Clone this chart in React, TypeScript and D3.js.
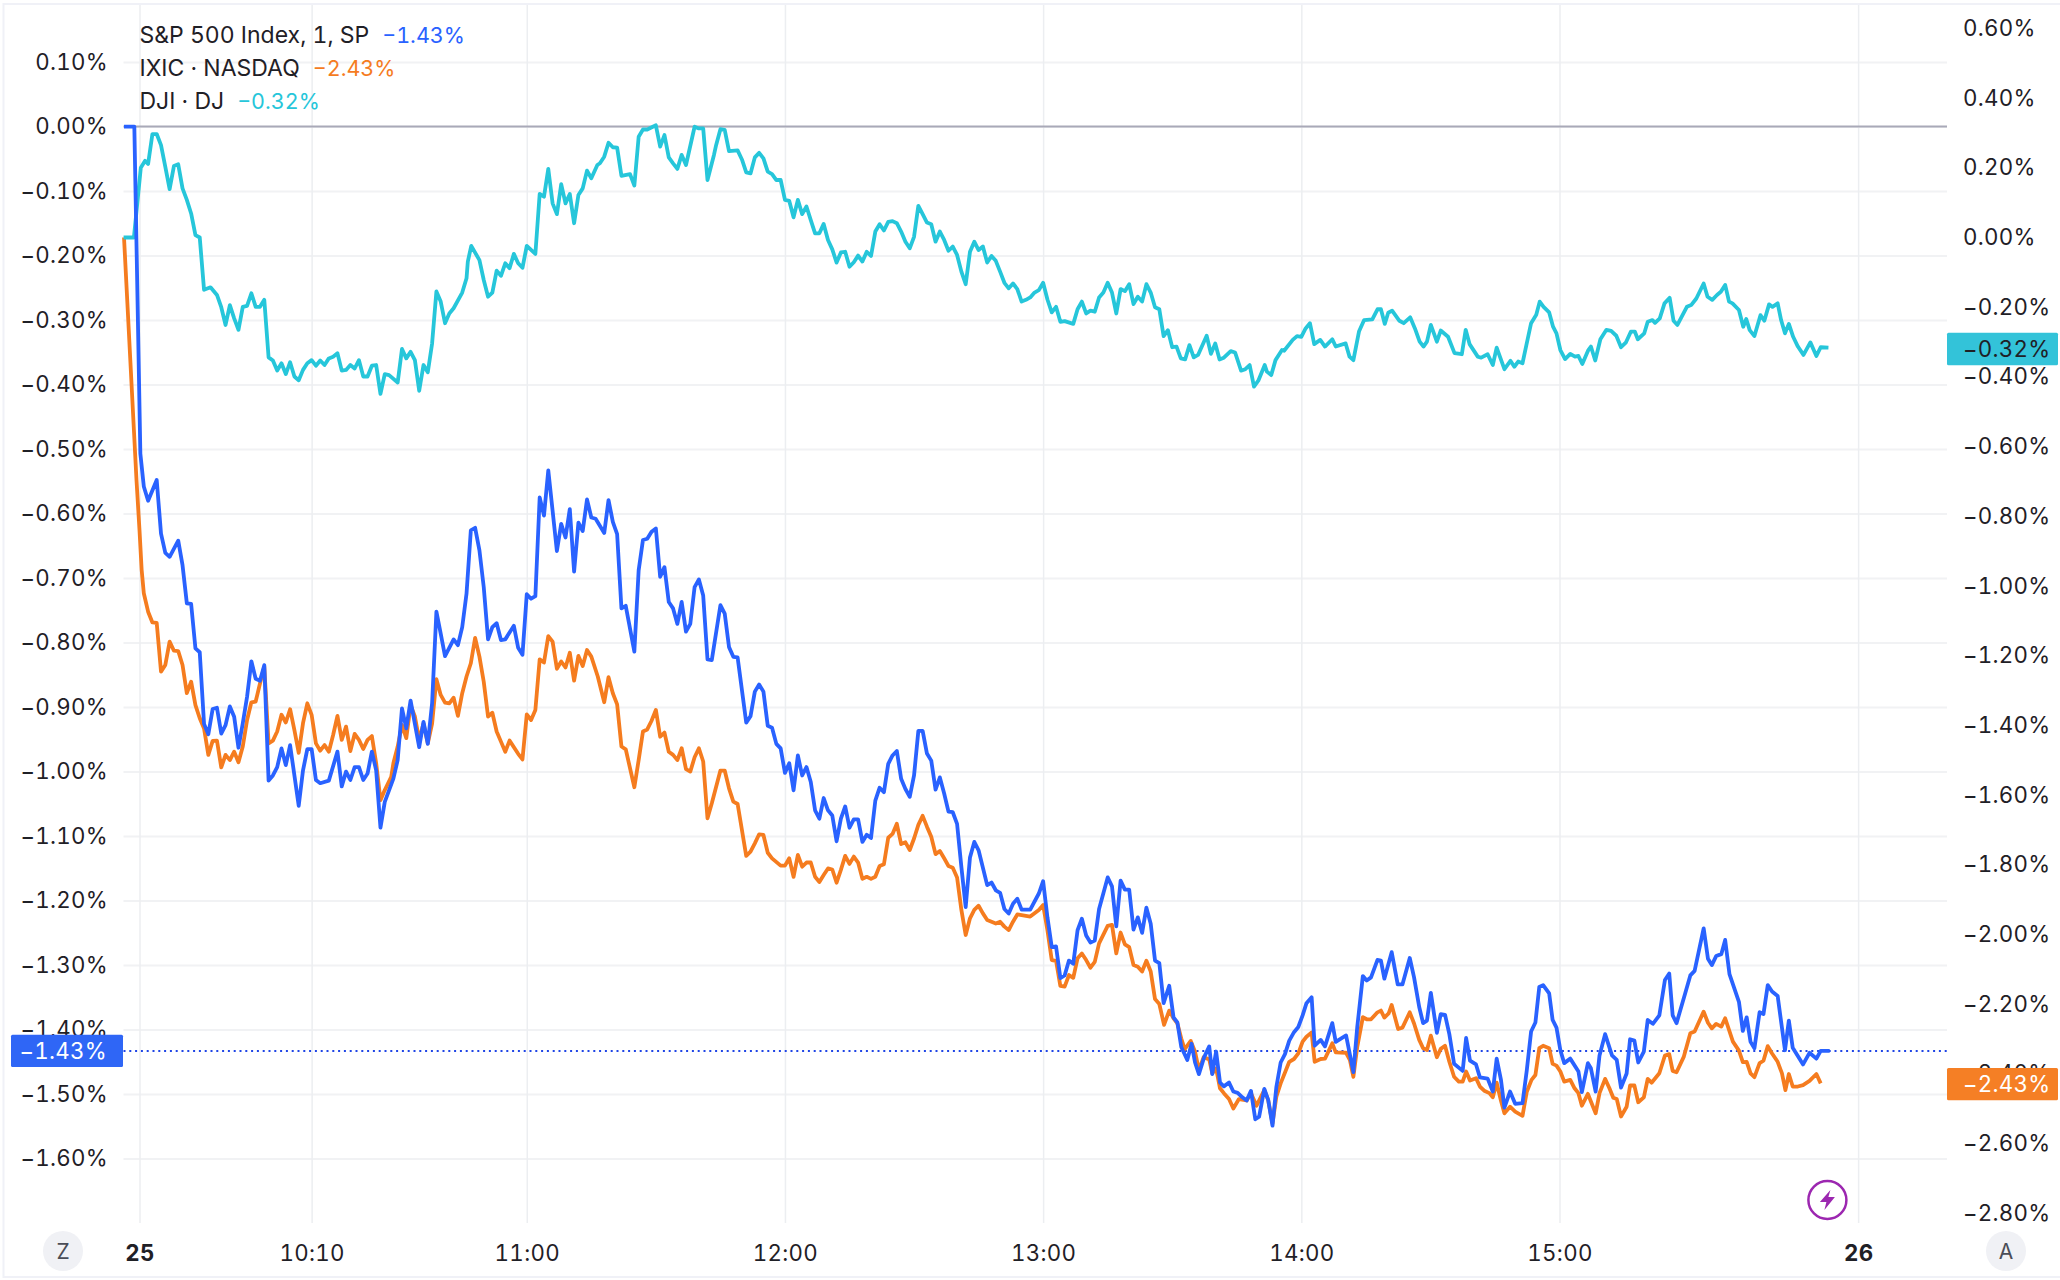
import React, { useRef, useEffect } from 'react';
import * as d3 from 'd3';

// every point is [minutes after 9:30, percent change]
const spPoints: [number, number][] = [
  [-3.6,0],[-1.2,0],[0.2,-0.507],[1,-0.558],[2,-0.58],[4,-0.548],[5,-0.631],[6,-0.661],[7,-0.667],[9,-0.642],[10,-0.68],[11,-0.739],[12,-0.74],[13,-0.809],[14,-0.815],[15,-0.926],[16,-0.942],[17,-0.903],[18,-0.901],[19,-0.941],[20,-0.928],[21,-0.899],[22,-0.915],[23,-0.963],[24,-0.925],[25,-0.884],[26,-0.829],[27,-0.856],[28,-0.859],[29,-0.835],[30,-1.014],[31,-1.006],[32,-0.993],[33,-0.964],[34,-0.99],[35,-0.959],[37,-1.053],[38,-0.998],[39,-0.965],[40,-0.965],[41,-1.013],[42,-1.018],[44,-1.014],[46,-0.969],[47,-1.023],[48,-1],[49,-1.013],[50,-0.993],[51,-0.993],[52,-1.013],[53,-1.003],[54,-0.969],[55,-0.998],[56,-1.087],[57,-1.047],[59,-1.011],[60,-0.982],[61,-0.902],[62,-0.933],[63,-0.89],[65,-0.962],[66,-0.923],[67,-0.957],[68,-0.894],[69,-0.752],[70,-0.786],[71,-0.821],[73,-0.795],[74,-0.804],[75,-0.776],[76,-0.724],
  [77,-0.626],[78,-0.622],[79,-0.657],[80,-0.714],[81,-0.795],[82,-0.776],[83,-0.77],[84,-0.796],[85,-0.795],[87,-0.774],[88,-0.808],[89,-0.819],[90,-0.725],[91,-0.732],[92,-0.728],[93,-0.575],[94,-0.603],[95,-0.533],[97,-0.658],[98,-0.616],[99,-0.637],[100,-0.593],[101,-0.69],[102,-0.614],[103,-0.627],[104,-0.578],[105,-0.606],[106,-0.608],[108,-0.63],[109,-0.579],[110,-0.613],[111,-0.632],[112,-0.747],[113,-0.743],[115,-0.814],[116,-0.688],[117,-0.641],[118,-0.639],[119,-0.628],[120,-0.623],[121,-0.698],[122,-0.683],[123,-0.737],[124,-0.747],[125,-0.771],[126,-0.737],[127,-0.783],[128,-0.771],[129,-0.714],[130,-0.702],[131,-0.727],[132,-0.826],[133,-0.827],[135,-0.742],[136,-0.755],[137,-0.807],[138,-0.822],[139,-0.823],[141,-0.924],[142,-0.914],[143,-0.876],[144,-0.865],[145,-0.876],[146,-0.929],[147,-0.932],[148,-0.957],[149,-0.964],[150,-1.002],[151,-0.987],[152,-1.029],[153,-0.975],[154,-1.006],[155,-0.993],[156,-1.016],[157,-1.06],
  [158,-1.073],[159,-1.041],[160,-1.06],[161,-1.068],[162,-1.108],[163,-1.073],[164,-1.054],[165,-1.087],[166,-1.074],[167,-1.074],[168,-1.109],[169,-1.098],[170,-1.103],[171,-1.045],[172,-1.025],[173,-1.032],[174,-0.988],[175,-0.975],[176,-0.968],[177,-1.011],[178,-1.027],[179,-1.039],[180,-1.006],[181,-0.937],[182,-0.937],[183,-0.972],[184,-0.983],[185,-1.028],[186,-1.009],[187,-1.034],[188,-1.062],[189,-1.063],[190,-1.081],[191,-1.148],[192,-1.21],[193,-1.133],[194,-1.109],[195,-1.122],[197,-1.176],[198,-1.172],[199,-1.184],[200,-1.188],[201,-1.213],[202,-1.22],[203,-1.205],[204,-1.197],[205,-1.214],[207,-1.214],[209,-1.189],[210,-1.17],[211,-1.226],[212,-1.272],[213,-1.271],[214,-1.32],[215,-1.316],[216,-1.293],[217,-1.298],[218,-1.246],[219,-1.228],[220,-1.254],[221,-1.265],[222,-1.262],[223,-1.213],[225,-1.164],[226,-1.178],[227,-1.24],[228,-1.169],[229,-1.183],[230,-1.183],[231,-1.245],[232,-1.226],[233,-1.25],[234,-1.211],[235,-1.236],[236,-1.293],[237,-1.297],
  [238,-1.359],[239.3,-1.332],[240.3,-1.381],[241.2,-1.389],[242.1,-1.427],[243.5,-1.447],[244.5,-1.422],[245.3,-1.451],[246.2,-1.469],[247.4,-1.443],[248.6,-1.426],[249.3,-1.469],[250.2,-1.434],[251.1,-1.482],[252,-1.488],[253.2,-1.482],[254.2,-1.496],[255.2,-1.498],[256.3,-1.505],[257.3,-1.51],[258.3,-1.495],[259.3,-1.539],[260.2,-1.535],[261.4,-1.492],[262.3,-1.509],[263.3,-1.549],[264.2,-1.489],[265.2,-1.451],[266.2,-1.438],[267.2,-1.417],[268.3,-1.404],[269.3,-1.396],[270.3,-1.378],[271.2,-1.359],[272.4,-1.35],[273.1,-1.425],[274.5,-1.416],[275.5,-1.426],[277.2,-1.39],[278,-1.419],[280.4,-1.409],[282.1,-1.466],[283,-1.396],[284.3,-1.317],[285.2,-1.324],[286.2,-1.319],[287.7,-1.292],[288.5,-1.293],[289.3,-1.321],[291,-1.28],[292.4,-1.33],[293.5,-1.33],[295.2,-1.289],[296.2,-1.319],[297.4,-1.365],[298.3,-1.39],[299.2,-1.386],[300.1,-1.343],[301.5,-1.405],[302.4,-1.376],[303.4,-1.377],[304.4,-1.407],[305.5,-1.453],[307.5,-1.464],[308.3,-1.413],[309.2,-1.448],[310.6,-1.454],[311.5,-1.474],[313.3,-1.476],[314.5,-1.496],[315.4,-1.445],
  [316.4,-1.478],[317.2,-1.521],[318.5,-1.496],[319.7,-1.515],[321.4,-1.514],[322.4,-1.463],[323.4,-1.403],[324.4,-1.389],[325.3,-1.334],[326.2,-1.331],[327.6,-1.344],[328.4,-1.385],[329.3,-1.397],[330.2,-1.432],[331.1,-1.452],[332.5,-1.445],[334.4,-1.465],[335.2,-1.497],[336.6,-1.452],[337.3,-1.46],[338.4,-1.496],[339.3,-1.44],[340.6,-1.407],[342.2,-1.44],[343.3,-1.447],[344.3,-1.49],[345.6,-1.468],[346.4,-1.415],[347.4,-1.417],[348.3,-1.451],[349.6,-1.434],[350.5,-1.385],[351.7,-1.391],[353.2,-1.378],[354.5,-1.323],[355.5,-1.313],[356.3,-1.378],[357.2,-1.39],[359.2,-1.344],[360.4,-1.316],[361.4,-1.309],[363.5,-1.243],[364.5,-1.29],[365.4,-1.3],[366.4,-1.286],[367.6,-1.283],[368.5,-1.261],[369.5,-1.314],[371.7,-1.357],[372.6,-1.402],[373.5,-1.381],[374.4,-1.419],[375.3,-1.429],[376.5,-1.373],[377.4,-1.376],[378.4,-1.331],[379.4,-1.341],[380.7,-1.348],[382.4,-1.432],[383.3,-1.386],[384.2,-1.428],[386.6,-1.454],[388.1,-1.436],[389.7,-1.445],[390.7,-1.433],[392.8,-1.433],
];

const ixicPoints: [number, number][] = [
  [-3.6,0],[-1.3,-0.5525],[-0.7,-0.696],[0,-0.84],[0.5,-0.954],[1,-1.021],[2,-1.074],[3,-1.105],[4,-1.106],[5,-1.246],[6,-1.227],[7,-1.16],[8,-1.186],[9,-1.187],[10,-1.227],[11,-1.308],[12,-1.275],[13,-1.342],[14,-1.38],[15,-1.409],[16,-1.485],[17,-1.445],[18,-1.444],[19,-1.521],[20,-1.485],[21,-1.5],[22,-1.476],[23,-1.506],[24,-1.461],[25,-1.385],[26,-1.334],[27,-1.332],[28,-1.28],[29,-1.232],[30,-1.452],[31,-1.444],[32,-1.418],[33,-1.37],[34,-1.392],[35,-1.354],[36,-1.414],[37,-1.479],[38,-1.394],[39,-1.337],[40,-1.37],[41,-1.452],[42,-1.473],[43,-1.457],[44,-1.476],[45,-1.428],[46,-1.373],[47,-1.442],[48,-1.404],[49,-1.474],[50,-1.425],[51,-1.442],[52,-1.468],[53,-1.442],[54,-1.431],[55,-1.509],[56,-1.615],[57,-1.586],[58.5,-1.548],[59,-1.509],[60,-1.461],[61,-1.399],[62,-1.437],[63,-1.342],[64,-1.375],[65,-1.442],[66,-1.395],[67,-1.452],[68,-1.395],[69,-1.268],[70,-1.313],[71,-1.335],[72,-1.337],[73,-1.321],[74,-1.373],[75,-1.308],[76,-1.26],
  [77,-1.222],[78,-1.149],[79,-1.203],[80,-1.275],[81,-1.375],[82,-1.364],[83,-1.418],[84,-1.447],[85,-1.476],[86,-1.444],[88,-1.482],[89,-1.498],[90,-1.369],[91,-1.385],[92,-1.356],[93,-1.211],[94,-1.22],[95,-1.144],[96,-1.16],[97,-1.238],[98,-1.217],[99,-1.234],[100,-1.192],[101,-1.272],[102,-1.201],[103,-1.23],[104,-1.184],[105,-1.203],[106.5,-1.26],[108,-1.334],[109,-1.262],[110,-1.308],[111,-1.34],[112,-1.461],[113,-1.469],[115,-1.578],[116,-1.5],[117,-1.418],[118,-1.412],[119,-1.387],[120,-1.356],[121,-1.433],[122,-1.421],[123,-1.476],[124,-1.485],[125,-1.5],[126,-1.466],[127,-1.526],[128,-1.533],[129,-1.492],[130,-1.466],[131,-1.504],[132,-1.667],[133,-1.624],[135,-1.53],[136,-1.53],[137,-1.581],[138,-1.619],[139,-1.626],[141,-1.775],[142,-1.763],[143,-1.739],[144,-1.713],[145,-1.715],[146,-1.766],[147,-1.782],[149,-1.803],[150,-1.803],[151,-1.782],[152,-1.835],[153,-1.772],[154,-1.806],[155,-1.794],[156,-1.794],[157,-1.835],
  [158,-1.85],[159,-1.83],[160,-1.811],[161,-1.814],[162,-1.852],[163,-1.815],[164,-1.775],[165,-1.798],[166,-1.777],[167,-1.794],[168,-1.841],[169,-1.835],[170,-1.841],[171,-1.835],[172,-1.804],[173,-1.799],[174,-1.723],[175,-1.712],[176,-1.683],[177,-1.741],[178,-1.736],[179,-1.758],[180,-1.725],[181,-1.686],[182,-1.66],[183,-1.691],[184,-1.72],[185,-1.77],[186,-1.761],[187,-1.782],[188,-1.804],[189,-1.809],[190,-1.837],[191,-1.93],[192,-2.002],[193,-1.954],[194,-1.93],[195,-1.918],[196,-1.94],[197,-1.959],[199,-1.969],[200,-1.964],[201,-1.978],[202,-1.988],[203,-1.964],[204,-1.943],[207,-1.949],[209,-1.93],[210,-1.916],[211,-1.988],[212,-2.074],[213,-2.076],[214,-2.148],[215,-2.15],[216,-2.117],[217,-2.125],[218,-2.069],[219,-2.055],[220,-2.074],[221,-2.096],[222,-2.079],[223,-2.026],[225,-1.976],[226,-1.973],[227,-2.055],[228,-1.995],[229,-2.029],[230,-2.037],[231,-2.088],[232,-2.093],[233,-2.107],[234,-2.076],[235,-2.107],[236,-2.186],[237,-2.2],
  [238.1,-2.26],[239.3,-2.219],[240.3,-2.241],[241.2,-2.256],[242.1,-2.299],[242.9,-2.33],[244.3,-2.306],[245.3,-2.337],[246.2,-2.39],[247.3,-2.353],[248.6,-2.359],[249.3,-2.399],[250.2,-2.385],[251.1,-2.442],[252,-2.456],[253.2,-2.473],[254.2,-2.5],[255.5,-2.473],[257.3,-2.477],[258.3,-2.456],[259.6,-2.492],[261.4,-2.447],[262.3,-2.476],[263.3,-2.543],[264.2,-2.466],[265.2,-2.428],[267.2,-2.366],[268.3,-2.358],[269.3,-2.342],[270.3,-2.308],[271.2,-2.294],[272.4,-2.282],[273.1,-2.366],[274.5,-2.358],[275.5,-2.357],[277.2,-2.313],[278,-2.339],[280.4,-2.34],[281.3,-2.361],[282.1,-2.409],[283,-2.323],[284.3,-2.238],[285.2,-2.244],[286.2,-2.244],[287.7,-2.224],[288.5,-2.219],[289.3,-2.239],[290.3,-2.227],[291,-2.203],[292.5,-2.272],[293.5,-2.268],[295.2,-2.224],[296.2,-2.256],[297.4,-2.303],[298.3,-2.327],[299.2,-2.332],[300.1,-2.291],[301.5,-2.353],[302.4,-2.329],[303.4,-2.32],[304.4,-2.366],[305.5,-2.409],[306.6,-2.423],[307.5,-2.423],[308.3,-2.394],[309.2,-2.42],[310.6,-2.413],[311.5,-2.437],[312.5,-2.449],[313.7,-2.456],[314.5,-2.468],[315.4,-2.426],
  [316.4,-2.478],[317.2,-2.514],[318.5,-2.495],[319.7,-2.509],[321.4,-2.521],[322.4,-2.452],[323.5,-2.418],[324.4,-2.404],[325.3,-2.327],[326.2,-2.32],[327.6,-2.327],[328.4,-2.372],[329.3,-2.377],[330.2,-2.394],[331.1,-2.423],[332.5,-2.418],[333.5,-2.442],[334.4,-2.456],[335.2,-2.492],[336.6,-2.458],[337.3,-2.48],[338.4,-2.514],[339.3,-2.456],[340.6,-2.415],[341.6,-2.442],[342.5,-2.469],[343.3,-2.473],[344.3,-2.523],[345.6,-2.495],[346.4,-2.434],[347.4,-2.434],[348.3,-2.482],[349.6,-2.468],[350.5,-2.415],[351.4,-2.426],[353.2,-2.399],[354.5,-2.348],[355.5,-2.344],[356.3,-2.392],[357.2,-2.396],[358.9,-2.351],[360.4,-2.284],[361.4,-2.279],[363.5,-2.222],[364.5,-2.254],[365.4,-2.27],[366.4,-2.257],[367.6,-2.265],[368.5,-2.241],[370.3,-2.308],[371.7,-2.334],[372.6,-2.367],[373.5,-2.366],[374.4,-2.399],[375.3,-2.41],[376.5,-2.37],[377.4,-2.363],[378.4,-2.321],[379.4,-2.342],[380.7,-2.366],[381.7,-2.399],[382.5,-2.447],[383.3,-2.401],[384.2,-2.437],[385.4,-2.437],[386.6,-2.433],[388.1,-2.421],[389.7,-2.401],[390.7,-2.428],
];

const djiPoints: [number, number][] = [
  [-3.7,0],[-1.3,0],[0.3,0.2],[1.3,0.22],[2,0.211],[3,0.297],[4,0.297],[5,0.265],[6,0.203],[7,0.139],[8,0.205],[9,0.21],[10,0.141],[11,0.108],[12,0.069],[13,0.007],[14,0],[15,-0.15],[16.5,-0.143],[18,-0.165],[19,-0.2],[20,-0.251],[21,-0.194],[22,-0.232],[23,-0.265],[24,-0.199],[25,-0.196],[26,-0.16],[27,-0.199],[28,-0.199],[29,-0.179],[30,-0.344],[31,-0.353],[32,-0.382],[33,-0.361],[34,-0.392],[35,-0.358],[36,-0.399],[37,-0.41],[38,-0.38],[39,-0.361],[40,-0.352],[41,-0.368],[42,-0.353],[43,-0.366],[44,-0.347],[45,-0.342],[46,-0.332],[47,-0.382],[48,-0.38],[49,-0.366],[50,-0.376],[51,-0.352],[52,-0.399],[53,-0.399],[54,-0.368],[55,-0.366],[56,-0.449],[57,-0.392],[58,-0.395],[60,-0.416],[61,-0.32],[62,-0.347],[63,-0.328],[64,-0.352],[65,-0.44],[66,-0.366],[67,-0.387],[68,-0.304],[69,-0.155],[70,-0.184],[71,-0.246],[72,-0.218],[73,-0.203],[75,-0.158],[76,-0.117],[76.3,-0.069],[77.1,-0.024],[79,-0.065],[80,-0.122],[81,-0.17],[82,-0.158],[83,-0.095],[84,-0.11],[85,-0.074],[86,-0.088],[87,-0.047],[88,-0.074],[89,-0.087],[90,-0.024],[92,-0.047],[93,0.125],[94,0.117],[95,0.197],[96,0.098],[97,0.067],[98,0.153],[99,0.098],[100,0.125],[101,0.041],[102,0.122],[103,0.141],[104,0.192],[105,0.17],[106.4,0.208],[107,0.213],[108,0.232],[109,0.272],[110,0.259],[111,0.258],[112,0.177],[114,0.182],[115,0.149],[116,0.289],[117,0.31],[118,0.31],[120,0.322],[121,0.261],[122,0.294],[123,0.23],[124,0.213],[125,0.197],[126,0.237],[127,0.208],[129,0.318],
  [130,0.313],[131,0.313],[132,0.165],[133.5,0.237],[134,0.265],[135,0.311],[136,0.309],[137,0.248],[139,0.25],[140,0.224],[141,0.187],[142,0.184],[143,0.23],[144,0.243],[145,0.227],[146,0.189],[147,0.182],[148,0.165],[149,0.165],[150,0.108],[151,0.105],[152,0.058],[153,0.108],[154,0.067],[155,0.089],[156,0.05],[157,0.012],[158,0.012],[159,0.039],[160,-0.007],[161,-0.034],[162,-0.072],[163,-0.043],[164,-0.041],[165,-0.084],[166,-0.071],[167,-0.052],[168,-0.069],[169,-0.041],[170,-0.053],[171,0.017],[172,0.038],[173,0.02],[174,0.045],[175,0.047],[176,0.041],[177,0.017],[178,-0.012],[179,-0.031],[180,0.002],[181,0.091],[182,0.067],[183,0.043],[184,0.038],[185,-0.012],[186,0.017],[187,-0.007],[188,-0.038],[189,-0.026],[190,-0.05],[191,-0.098],[192,-0.134],[193,-0.041],[194,-0.012],[195,-0.036],[196,-0.026],[197,-0.072],[198,-0.053],[199,-0.067],[200,-0.098],[201,-0.13],[202,-0.146],[203,-0.132],[204,-0.148],[205,-0.184],[206,-0.179],[207,-0.172],[208,-0.158],[209,-0.151],[210,-0.13],[211,-0.178],[212,-0.215],[213,-0.199],[214,-0.242],[215,-0.24],[217,-0.248],[218,-0.206],[219,-0.184],[220,-0.218],[221,-0.21],[222,-0.213],[223,-0.172],[224,-0.158],[225,-0.13],[226,-0.158],[227,-0.218],[228,-0.148],[229,-0.154],[230,-0.134],[231,-0.191],[232,-0.17],[233,-0.184],[234,-0.134],[235,-0.158],[236,-0.2],[237,-0.206],[238,-0.283],[239,-0.266],[240,-0.315],[241,-0.313],[242,-0.347],[243,-0.35],[244,-0.309],[245,-0.344],[246,-0.337],[248,-0.282],[249,-0.334],[250,-0.304],[251,-0.35],[252,-0.345],[253.6,-0.326],[254.6,-0.33],[255.2,-0.352],[256,-0.382],[257,-0.378],[258,-0.366],[259,-0.428],[260,-0.411],[261.5,-0.366],[262,-0.385],[263,-0.395],[264,-0.352],[265.5,-0.323],[266,-0.325],[268,-0.294],[269,-0.283],
  [270,-0.285],[271,-0.261],[272,-0.246],[273,-0.306],[274.4,-0.294],[275.5,-0.313],[277.2,-0.292],[278,-0.313],[280.3,-0.304],[281.2,-0.342],[282.1,-0.352],[283.4,-0.27],[284.6,-0.237],[286.5,-0.235],[287.7,-0.206],[288.5,-0.206],[289.4,-0.248],[290.2,-0.216],[291.1,-0.21],[292.8,-0.239],[293.8,-0.246],[295.3,-0.229],[296.4,-0.261],[297.5,-0.299],[298.4,-0.313],[299.2,-0.299],[300.1,-0.251],[301.5,-0.299],[302.4,-0.267],[304.1,-0.285],[305.6,-0.332],[307.3,-0.335],[308.2,-0.265],[309.1,-0.306],[311,-0.342],[311.8,-0.345],[313.3,-0.335],[314.5,-0.366],[315.4,-0.316],[317.2,-0.378],[318.6,-0.354],[319.5,-0.371],[320.4,-0.356],[321.4,-0.361],[322.3,-0.309],[323.4,-0.246],[324.6,-0.222],[325.4,-0.184],[326.3,-0.199],[327.6,-0.215],[328.5,-0.256],[329.3,-0.275],[330.2,-0.323],[331.3,-0.349],[332.5,-0.334],[333.6,-0.342],[334.4,-0.34],[335.3,-0.363],[336.7,-0.323],[337.3,-0.313],[338.3,-0.353],[339.5,-0.292],[340.9,-0.265],[342,-0.268],[343.2,-0.282],[344.3,-0.315],[345.4,-0.302],[346.6,-0.27],[347.5,-0.27],[348.2,-0.292],[349.7,-0.275],[350.5,-0.242],[351.6,-0.237],[352.2,-0.245],[353.3,-0.232],[354.4,-0.189],[355.6,-0.173],[356.5,-0.239],[357.4,-0.251],[359.6,-0.199],[360.6,-0.194],[361.8,-0.175],[363.5,-0.132],[364.4,-0.17],[365.5,-0.179],[366.6,-0.165],[367.5,-0.156],[368.5,-0.136],[369.4,-0.184],[370.2,-0.189],[371.7,-0.208],[372.7,-0.256],[373.4,-0.234],[374.2,-0.266],[375.3,-0.283],[376.7,-0.223],[377.6,-0.239],[378.7,-0.192],[379.5,-0.199],[380.7,-0.189],[381.5,-0.237],[382.4,-0.275],[383.3,-0.248],[384.3,-0.285],[385.4,-0.313],[386.7,-0.337],[388.3,-0.301],[389.7,-0.34],[390.7,-0.315],[392.5,-0.316],
];

const leftTicks = [0.1, 0, -0.1, -0.2, -0.3, -0.4, -0.5, -0.6, -0.7, -0.8, -0.9, -1.0, -1.1, -1.2, -1.3, -1.4, -1.5, -1.6];
const rightTicks = [0.6, 0.4, 0.2, 0, -0.2, -0.4, -0.6, -0.8, -1.0, -1.2, -1.4, -1.6, -1.8, -2.0, -2.2, -2.4, -2.6, -2.8];
const timeTicks = [0, 40, 90, 150, 210, 270, 330, 399.4];
const timeLabels = ['25', '10:10', '11:00', '12:00', '13:00', '14:00', '15:00', '26'];

const spLast = -1.433;
const ixicLast = -2.43;
const djiLast = -0.32;

const BLUE = '#2962ff';
const ORANGE = '#f57c1f';
const TEAL = '#26c6da';
const FONT = 'Inter, sans-serif';
const TEXT = '#1f2026';

const pct = (v: number) => `${v < 0 ? '\u2212' : ''}${Math.abs(v).toFixed(2)}%`;

const App: React.FC = () => {
  const svgRef = useRef<SVGSVGElement>(null);

  useEffect(() => {
    if (!svgRef.current) return;
    const svg = d3.select(svgRef.current);
    svg.selectAll('*').remove();

    const plotLeft = 123.5;
    const plotRight = 1947;
    const plotBottom = 1223;
    const fontSize = 22.3;
    const tracking = 0.3;
    const rightLabelX = 1963;

    const x = d3.scaleLinear().domain([0, 330]).range([139.5, 1559.5]);
    // S&P sits on the left scale, the other two on the right one
    const yLeft = d3.scaleLinear().domain([0, -1.6]).range([126.6, 1158.6]);
    const yRight = d3.scaleLinear().domain([0, -2.8]).range([237.5, 1213]);

    // frame
    svg.append('rect')
      .attr('x', 3.5).attr('y', 4).attr('width', 2060).attr('height', 1273)
      .attr('fill', '#fff').attr('stroke', '#f0f1f7').attr('stroke-width', 2);

    // grid
    const hGrid = svg.append('g')
      .attr('transform', `translate(${plotLeft},0)`)
      .call(d3.axisRight(yLeft).tickValues(leftTicks).tickSize(plotRight - plotLeft).tickFormat(() => ''));
    hGrid.select('.domain').remove();
    hGrid.selectAll('line').attr('stroke', '#f1f2f4').attr('stroke-width', 2);

    const vGrid = svg.append('g')
      .attr('transform', `translate(0,${plotBottom})`)
      .call(d3.axisTop(x).tickValues(timeTicks).tickSize(plotBottom - 5).tickFormat(() => ''));
    vGrid.select('.domain').remove();
    vGrid.selectAll('line').attr('stroke', '#eceef1').attr('stroke-width', 1.5);

    // zero line
    svg.append('line')
      .attr('x1', plotLeft).attr('x2', plotRight)
      .attr('y1', yLeft(0)).attr('y2', yLeft(0))
      .attr('stroke', '#a9a9b8').attr('stroke-width', 2);

    // last value line of the S&P
    svg.append('line')
      .attr('x1', plotLeft).attr('x2', plotRight)
      .attr('y1', yLeft(spLast)).attr('y2', yLeft(spLast))
      .attr('stroke', '#1f45e6').attr('stroke-width', 2).attr('stroke-dasharray', '2 3.8');

    // lines
    const makeLine = (y: d3.ScaleLinear<number, number>) => d3.line<[number, number]>()
      .x(d => x(d[0]))
      .y(d => y(d[1]));

    const series: { points: [number, number][]; y: d3.ScaleLinear<number, number>; color: string }[] = [
      { points: ixicPoints, y: yRight, color: ORANGE },
      { points: djiPoints, y: yRight, color: TEAL },
      { points: spPoints, y: yLeft, color: BLUE },
    ];
    series.forEach(s => {
      svg.append('path')
        .datum(s.points)
        .attr('fill', 'none')
        .attr('stroke', s.color)
        .attr('stroke-width', 3.8)
        .attr('stroke-linejoin', 'round')
        .attr('d', makeLine(s.y));
    });

    // axis labels
    const styleAxis = (g: d3.Selection<SVGGElement, unknown, null, undefined>) => {
      g.select('.domain').remove();
      g.selectAll('line').remove();
      g.selectAll('text')
        .attr('font-family', FONT)
        .attr('font-size', fontSize)
        .attr('letter-spacing', tracking)
        .style('font-variant-numeric', 'tabular-nums')
        .attr('fill', TEXT);
    };

    const leftAxis = svg.append('g')
      .attr('transform', 'translate(108,0)')
      .call(d3.axisLeft(yLeft).tickValues(leftTicks).tickSize(0).tickPadding(0).tickFormat(d => pct(d as number)));
    styleAxis(leftAxis);

    const rightAxis = svg.append('g')
      .attr('transform', `translate(${rightLabelX},0)`)
      .call(d3.axisRight(yRight).tickValues(rightTicks).tickSize(0).tickPadding(0).tickFormat(d => pct(d as number)));
    styleAxis(rightAxis);

    const timeAxis = svg.append('g')
      .attr('transform', 'translate(0,1252.5)')
      .call(d3.axisBottom(x).tickValues(timeTicks).tickSize(0).tickPadding(0).tickFormat((_, i) => timeLabels[i]));
    styleAxis(timeAxis);
    timeAxis.selectAll<SVGTextElement, number>('text')
      .attr('y', 0)
      .attr('dy', '0.36em')
      .attr('font-weight', (_, i) => (timeLabels[i].includes(':') ? 400 : 700));

    // price boxes on the axes
    const priceBox = (x0: number, w: number, yc: number, fill: string, color: string, textX: number, anchor: string, value: number) => {
      svg.append('rect')
        .attr('x', x0).attr('y', yc - 16.2).attr('width', w).attr('height', 32.4)
        .attr('rx', 1.5)
        .attr('fill', fill);
      svg.append('text')
        .attr('x', textX).attr('y', yc).attr('dy', '0.36em')
        .attr('text-anchor', anchor)
        .attr('font-family', FONT).attr('font-size', fontSize).attr('letter-spacing', tracking)
        .style('font-variant-numeric', 'tabular-nums')
        .attr('fill', color)
        .text(pct(value));
    };
    priceBox(11, 112, yLeft(spLast), '#2f66f6', '#fff', 107, 'end', spLast);
    priceBox(1947, 111, yRight(ixicLast), '#f57f25', '#fff', rightLabelX, 'start', ixicLast);
    priceBox(1947, 111, yRight(djiLast), '#33c3d9', TEXT, rightLabelX, 'start', djiLast);

    // legend
    const legendRows = [
      { name: 'S&P 500 Index, 1, SP', value: spLast, color: BLUE, y: 35 },
      { name: 'IXIC \u00b7 NASDAQ', value: ixicLast, color: ORANGE, y: 68 },
      { name: 'DJI \u00b7 DJ', value: djiLast, color: TEAL, y: 100.7 },
    ];
    legendRows.forEach(row => {
      const t = svg.append('text')
        .attr('x', 139.5).attr('y', row.y).attr('dy', '0.36em')
        .attr('font-family', FONT).attr('font-size', 23)
        .style('font-variant-numeric', 'tabular-nums')
        .attr('fill', TEXT);
      t.append('tspan').text(row.name);
      t.append('tspan').attr('dx', 13).attr('font-size', 21.5).attr('fill', row.color).text(pct(row.value));
    });

    // round buttons
    [{ cx: 63, label: 'Z' }, { cx: 2006, label: 'A' }].forEach(b => {
      svg.append('circle').attr('cx', b.cx).attr('cy', 1251).attr('r', 20).attr('fill', '#f0f1f5');
      svg.append('text')
        .attr('x', b.cx).attr('y', 1251).attr('dy', '0.36em')
        .attr('text-anchor', 'middle')
        .attr('font-family', FONT).attr('font-size', 21)
        .attr('fill', '#4a4d57')
        .text(b.label);
    });

    // lightning badge
    const badge = svg.append('g').attr('transform', 'translate(1827.4,1200)');
    badge.append('circle').attr('r', 19).attr('fill', '#fff').attr('stroke', '#9c27b0').attr('stroke-width', 2.5);
    badge.append('path').attr('d', 'M3,-10 L-7.5,2 L-1,2 L-3,10 L7.5,-3 L1,-3 Z').attr('fill', '#9c27b0');
  }, []);

  return (
    <svg
      ref={svgRef}
      width={2060}
      height={1280}
      style={{ position: 'absolute', left: 0, top: 0, display: 'block', background: '#fff' }}
    />
  );
};

export default App;
